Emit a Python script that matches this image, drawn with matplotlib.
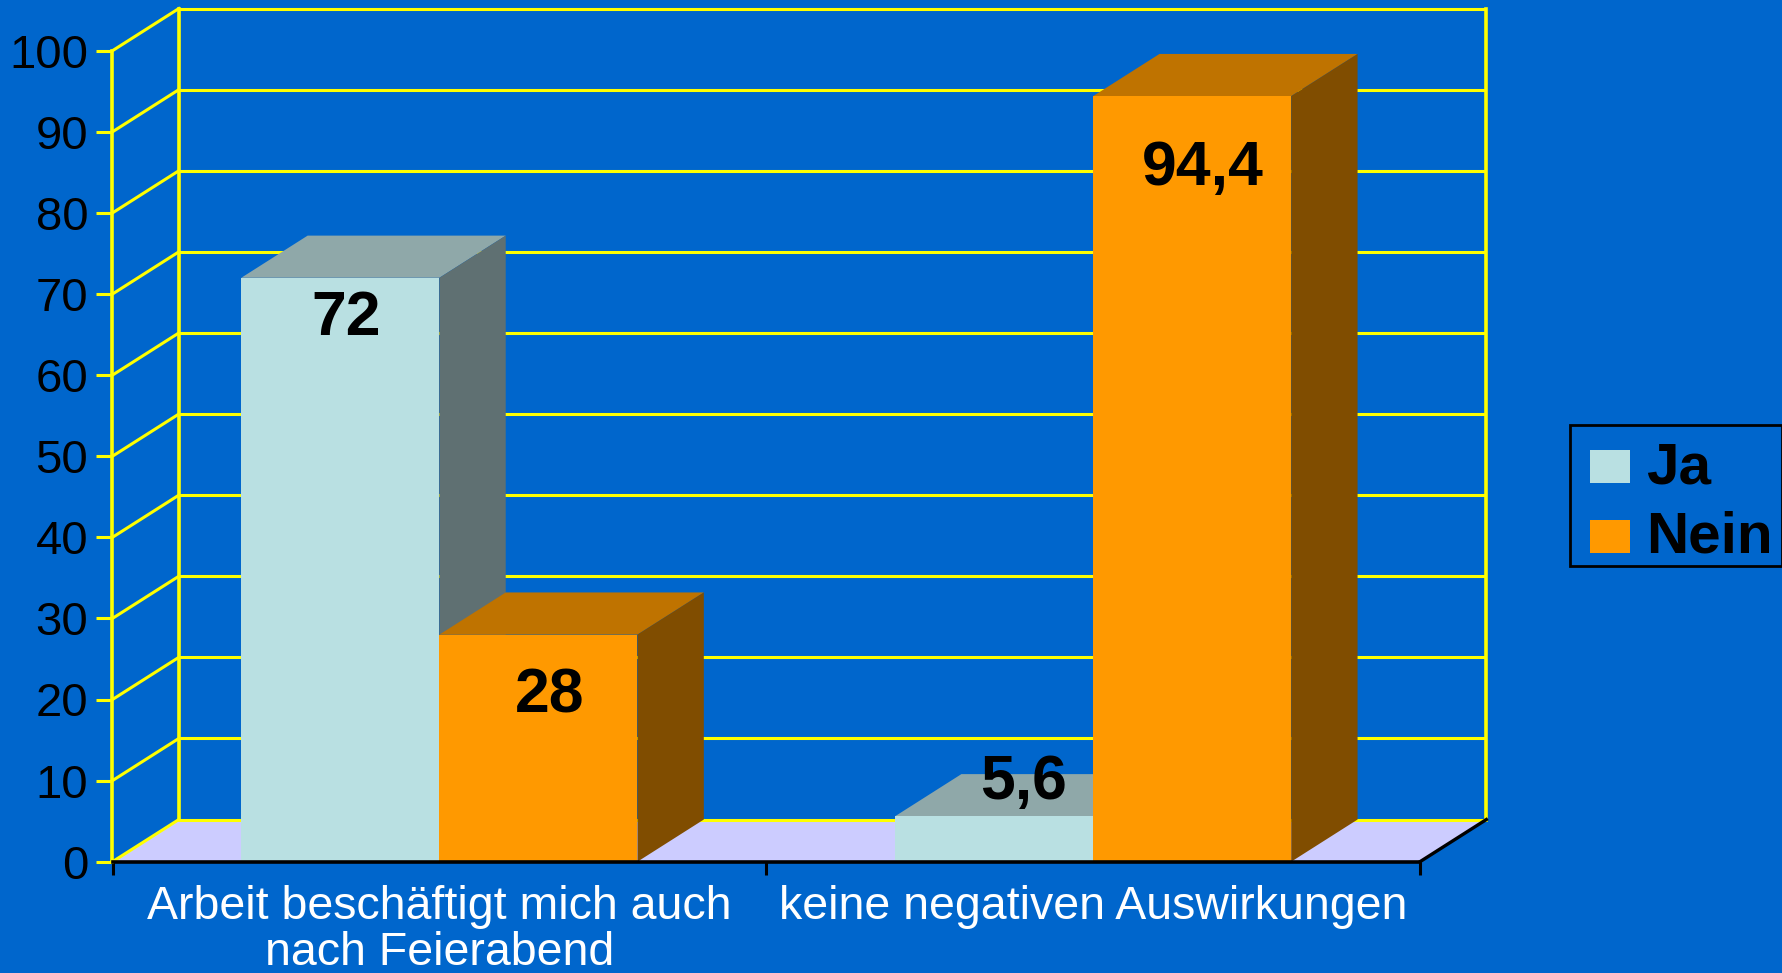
import matplotlib
matplotlib.use('Agg')
import matplotlib.pyplot as plt
from matplotlib.patches import Patch, Rectangle
from matplotlib.legend_handler import HandlerPatch

plt.rcParams['font.family'] = ['Liberation Sans', 'DejaVu Sans']

# data
categories = ['Arbeit beschäftigt mich auch\nnach Feierabend', 'keine negativen Auswirkungen']
ja = [72, 5.6]
nein = [28, 94.4]
ja_labels = ['72', '5,6']
nein_labels = ['28', '94,4']
y_ticks = [0, 10, 20, 30, 40, 50, 60, 70, 80, 90, 100]

# colours
bg = '#0066CC'
grid_col = '#FFFF00'
floor_col = '#CCCCFF'
ja_cols = ['#B9E0E2', '#8FA8A9', '#5F7072']     # front, top, side
nein_cols = ['#FF9900', '#BF7300', '#804D00']

# fake 3d depth and bar size, in axis units
depth_x = 0.1015
depth_y = 5.2
bar_w = 0.303

fig = plt.figure(figsize=(17.83, 9.73), dpi=100, facecolor=bg)
ax = fig.add_axes([112.5 / 1783, (973 - 861.7) / 973, 1307.5 / 1783, 811 / 973])
ax.set_facecolor('none')
ax.set_xlim(-0.5, 1.5)
ax.set_ylim(0, 100)

x0, x1 = ax.get_xlim()


def bar3d(x_left, height, cols, z):
    x_right = x_left + bar_w
    ax.fill([x_left, x_right, x_right, x_left], [0, 0, height, height],
            color=cols[0], lw=0, clip_on=False, zorder=z + 0.2)
    ax.fill([x_left, x_right, x_right + depth_x, x_left + depth_x],
            [height, height, height + depth_y, height + depth_y],
            color=cols[1], lw=0, clip_on=False, zorder=z)
    ax.fill([x_right, x_right + depth_x, x_right + depth_x, x_right],
            [0, depth_y, height + depth_y, height],
            color=cols[2], lw=0, clip_on=False, zorder=z + 0.1)


# floor
ax.fill([x0, x1, x1 + depth_x, x0 + depth_x], [0, 0, depth_y, depth_y],
        color=floor_col, lw=0, clip_on=False, zorder=1)

# back wall grid and the diagonals on the side wall
for t in y_ticks:
    ax.plot([x0 + depth_x, x1 + depth_x], [t + depth_y, t + depth_y], color=grid_col,
            lw=2.2, clip_on=False, zorder=2, solid_capstyle='butt')
    ax.plot([x0, x0 + depth_x], [t, t + depth_y], color=grid_col,
            lw=2.2, clip_on=False, zorder=2)
ax.plot([x0 + depth_x, x0 + depth_x], [depth_y, 100 + depth_y], color=grid_col, lw=2.6, clip_on=False, zorder=2)
ax.plot([x1 + depth_x, x1 + depth_x], [depth_y, 100 + depth_y], color=grid_col, lw=2.6, clip_on=False, zorder=2)
ax.plot([x1, x1 + depth_x], [0, depth_y], color='black', lw=2.4, clip_on=False, zorder=3)

# bars, ja first so nein sits over its side
for i in range(len(categories)):
    bar3d(i - bar_w, ja[i], ja_cols, 4 + i * 2)
    bar3d(i, nein[i], nein_cols, 5 + i * 2)

# value labels, offsets in pixels from the top of the bar
ja_off = [(6, -41), (29, 34)]
nein_off = [(11, -61), (11, -72)]
for i in range(len(categories)):
    ax.annotate(ja_labels[i], (i - bar_w / 2, ja[i]),
                xytext=(ja_off[i][0] * 0.72, ja_off[i][1] * 0.72), textcoords='offset points',
                ha='center', va='center', fontsize=45, fontweight='bold', color='black', zorder=20)
    ax.annotate(nein_labels[i], (i + bar_w / 2, nein[i]),
                xytext=(nein_off[i][0] * 0.72, nein_off[i][1] * 0.72), textcoords='offset points',
                ha='center', va='center', fontsize=45, fontweight='bold', color='black', zorder=20)

# axes
for s in ['top', 'right']:
    ax.spines[s].set_visible(False)
ax.spines['left'].set_color(grid_col)
ax.spines['left'].set_linewidth(2.6)
ax.spines['left'].set_zorder(15)
ax.spines['bottom'].set_color('black')
ax.spines['bottom'].set_linewidth(2.6)
ax.spines['bottom'].set_zorder(16)

ax.set_yticks(y_ticks)
ax.tick_params(axis='y', length=11.5, width=2.2, color=grid_col, labelcolor='black', labelsize=34, pad=6)

ax.set_xticks([0, 1])
ax.set_xticklabels(categories)
ax.set_xticks([-0.5, 0.5, 1.5], minor=True)
ax.tick_params(axis='x', which='major', length=0, labelcolor='white', labelsize=33.5, pad=17)
ax.tick_params(axis='x', which='minor', length=9.5, width=2.2, color='black')
for lab in ax.get_xticklabels():
    lab.set_linespacing(1.04)


# legend swatch sits further in than the frame padding
def swatch(legend, orig_handle, xdescent, ydescent, width, height, fontsize):
    return Rectangle((8.3 - xdescent, -6.3 - ydescent), 40 * 0.72, 33 * 0.72)


handles = [Patch(facecolor=ja_cols[0], edgecolor='none', label='Ja'),
           Patch(facecolor=nein_cols[0], edgecolor='none', label='Nein')]
leg = fig.legend(handles=handles, loc='upper left', bbox_to_anchor=(1570 / 1783, 1 - 425 / 973),
                 handler_map={Patch: HandlerPatch(patch_func=swatch)},
                 frameon=True, fancybox=False, facecolor=bg, edgecolor='black', framealpha=1,
                 prop={'family': 'Liberation Sans', 'weight': 'bold', 'size': 42},
                 handlelength=1.0, handleheight=0.65, handletextpad=0.16,
                 labelspacing=0.26, borderpad=0.15, borderaxespad=0)
leg.get_frame().set_linewidth(2)
for t in leg.get_texts():
    t.set_y(-8)

fig.savefig('out.png', dpi=100, facecolor=bg)
